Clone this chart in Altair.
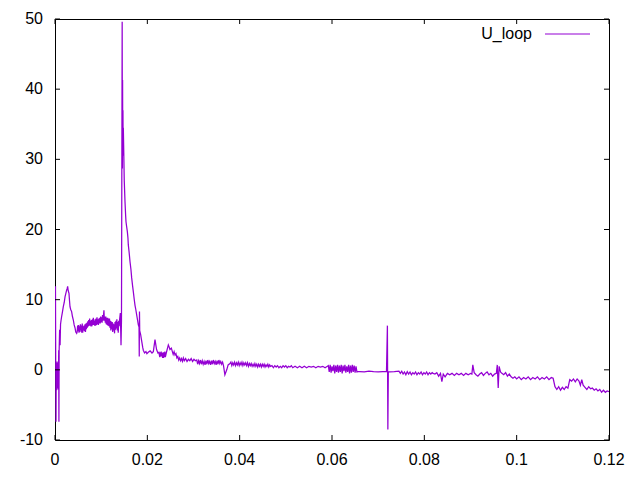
import altair as alt
import pandas as pd

# ---- data (time in s, U_loop) ----
seg_start = [
    (0.00000, 4.0), (0.00010, 11.9), (0.00016, 0.5), (0.00022, -7.4), (0.00026, -1.0),
    (0.00030, 1.0), (0.00034, -2.9), (0.00038, 0.8), (0.00042, -2.0), (0.00046, 1.2),
    (0.00050, -2.6), (0.00054, 0.3), (0.00058, -1.5), (0.00062, 1.0), (0.00066, -2.8),
    (0.00070, 0.6), (0.00075, -2.2), (0.00080, 2.8), (0.00085, -7.4), (0.00090, 2.8),
    (0.00100, 5.7), (0.00110, 3.5), (0.00120, 6.5), (0.00130, 7.0), (0.00144, 7.6),
    (0.00160, 8.2), (0.00180, 9.0), (0.00200, 9.6), (0.00217, 10.4), (0.00235, 10.9),
    (0.00253, 11.4), (0.00265, 11.6), (0.00274, 11.9), (0.00285, 11.3), (0.00303, 10.9),
    (0.00315, 9.8), (0.00325, 9.0), (0.00340, 8.6), (0.00360, 8.3), (0.00378, 7.6),
    (0.00397, 7.1), (0.00415, 6.4), (0.00433, 6.0), (0.00450, 5.4), (0.00470, 5.2),
]
seg_plateau = [
    (0.0048, 5.4), (0.0049, 6.3), (0.0050, 5.5), (0.0051, 6.4), (0.0052, 5.3),
    (0.0053, 6.2), (0.0054, 5.4), (0.0055, 6.5), (0.0056, 5.6), (0.0057, 6.3),
    (0.0058, 5.3), (0.0059, 6.6), (0.0060, 5.3), (0.0061, 6.2), (0.0062, 5.6),
    (0.0063, 6.3), (0.0064, 5.5), (0.0065, 6.5), (0.0066, 5.4), (0.0067, 6.6),
    (0.0068, 5.8), (0.0069, 6.7), (0.0070, 6.0), (0.0071, 6.9), (0.0072, 6.2),
    (0.0073, 7.1), (0.0074, 6.3), (0.0075, 7.3), (0.0076, 6.3), (0.0077, 7.0),
    (0.0078, 6.2), (0.0079, 7.1), (0.0080, 6.2), (0.0081, 7.2), (0.0082, 6.4),
    (0.0083, 7.4), (0.0084, 6.4), (0.0085, 7.0), (0.0086, 6.3), (0.0087, 7.2),
    (0.0088, 6.3), (0.0089, 7.3), (0.0090, 6.4), (0.0091, 7.5), (0.0092, 6.5),
    (0.0093, 7.2), (0.0094, 6.4), (0.0095, 7.3), (0.0096, 6.6), (0.0097, 7.4),
    (0.0098, 6.6), (0.0099, 7.6), (0.0100, 6.8), (0.0101, 7.5), (0.0102, 6.7),
    (0.0103, 7.8), (0.0104, 7.0), (0.0105, 7.7), (0.0106, 8.5), (0.0107, 7.0),
    (0.0108, 7.6), (0.0109, 6.7), (0.0110, 7.6), (0.0111, 6.5), (0.0112, 7.4),
    (0.0113, 6.4), (0.0114, 7.4), (0.0115, 6.3), (0.0116, 7.3), (0.0117, 6.2),
    (0.0118, 7.3), (0.0119, 6.0), (0.0120, 7.0), (0.0121, 5.6), (0.0122, 6.9),
    (0.0123, 5.8), (0.0124, 6.8), (0.0125, 5.4), (0.0126, 6.6), (0.0127, 5.6),
    (0.0128, 6.5), (0.0129, 5.2), (0.0130, 6.8), (0.0131, 5.7), (0.0132, 7.0),
    (0.0133, 5.9), (0.0134, 7.2), (0.0135, 5.6), (0.0136, 6.8), (0.0137, 5.3),
    (0.0138, 7.0), (0.0139, 6.2), (0.0140, 7.2),
]
seg_spike = [
    (0.01415, 8.1), (0.01430, 3.5), (0.01440, 7.0), (0.01455, 49.6), (0.01460, 28.7),
    (0.01464, 41.3), (0.01468, 30.5), (0.01472, 37.0), (0.01476, 31.0), (0.01480, 34.5),
    (0.01490, 30.9), (0.01500, 27.0), (0.01516, 24.0), (0.01530, 22.0), (0.01538, 21.1),
    (0.01550, 20.5), (0.01567, 19.7), (0.01580, 18.8), (0.01588, 17.8), (0.01605, 16.8),
    (0.01625, 15.4), (0.01645, 14.3), (0.01661, 13.1), (0.01680, 12.0), (0.01697, 11.1),
    (0.01715, 10.1), (0.01733, 9.2), (0.01750, 8.6), (0.01770, 7.8), (0.01790, 7.0),
    (0.01805, 6.4), (0.01820, 6.1), (0.01825, 1.9), (0.01830, 8.3), (0.01835, 5.6),
    (0.01856, 5.0), (0.01870, 4.4), (0.01885, 3.8), (0.01900, 3.2), (0.01913, 2.8),
    (0.01940, 2.4), (0.01970, 2.6), (0.01990, 2.3),
]
seg_decay = [
    (0.0202, 2.5), (0.0206, 2.7), (0.0210, 2.4), (0.0213, 2.6), (0.02166, 4.3),
    (0.0220, 2.9), (0.0223, 2.4), (0.0225, 2.5), (0.0227, 1.8), (0.0228, 2.5),
    (0.0229, 1.9), (0.0230, 2.6), (0.0231, 1.9), (0.0232, 2.4), (0.0233, 1.7),
    (0.0234, 2.5), (0.0235, 1.7), (0.0236, 2.5), (0.0237, 1.8), (0.0238, 2.6),
    (0.0239, 1.8), (0.0241, 2.4), (0.02455, 3.55), (0.0247, 3.3), (0.0249, 2.9),
    (0.0252, 3.1), (0.0256, 2.2), (0.0258, 2.6), (0.0260, 2.1), (0.0262, 2.3),
    (0.0264, 1.7), (0.0266, 1.9), (0.0268, 1.4), (0.0270, 1.7), (0.0272, 1.3),
    (0.0274, 1.6), (0.0276, 1.2), (0.0278, 1.7), (0.0280, 1.3), (0.0283, 1.6),
    (0.0286, 1.2), (0.0289, 1.5), (0.0292, 1.3), (0.0295, 1.6), (0.0298, 1.2),
    (0.0301, 1.5), (0.0304, 1.3), (0.0307, 1.4), (0.0309, 0.8), (0.0311, 1.3),
    (0.0313, 0.9), (0.0315, 1.4), (0.0317, 0.8), (0.0319, 1.3), (0.0321, 0.8),
    (0.0323, 1.2), (0.0325, 0.7), (0.0327, 1.3), (0.0329, 0.8), (0.0331, 1.4),
    (0.0333, 0.9), (0.0335, 1.2), (0.0337, 0.7), (0.0339, 1.3), (0.0341, 0.8),
    (0.0343, 1.4), (0.0345, 0.9), (0.0347, 1.2), (0.0349, 0.7), (0.0351, 1.3),
    (0.0353, 0.8), (0.0355, 1.4), (0.0357, 0.9), (0.0359, 1.2), (0.0361, 0.8),
    (0.0363, 1.1), (0.0365, 0.6), (0.0368, -0.7), (0.0372, 0.0), (0.0375, 0.7),
]
seg_mid = [
    (0.0379, 0.9), (0.0381, 1.1), (0.0383, 0.6), (0.0385, 1.0), (0.0387, 0.7),
    (0.0389, 1.1), (0.0391, 0.6), (0.0393, 1.0), (0.0395, 0.7), (0.0397, 1.1),
    (0.0399, 0.6), (0.0401, 1.0), (0.0403, 0.7), (0.0405, 1.1), (0.0407, 0.6),
    (0.0409, 1.0), (0.0411, 0.7), (0.0413, 1.0), (0.0415, 0.6), (0.0417, 1.0),
    (0.0419, 0.5), (0.0421, 0.9), (0.0423, 0.6), (0.0425, 0.9), (0.0427, 0.5),
    (0.0429, 0.8), (0.0431, 0.5), (0.0433, 0.9), (0.0435, 0.5), (0.0437, 0.8),
    (0.0439, 0.4), (0.0441, 0.8), (0.0443, 0.5), (0.0445, 0.8), (0.0447, 0.4),
    (0.0449, 0.8), (0.0451, 0.5), (0.0453, 0.8), (0.0455, 0.4), (0.0457, 0.7),
    (0.0459, 0.5), (0.0461, 0.8), (0.0463, 0.4), (0.0465, 0.7), (0.0467, 0.5),
    (0.0470, 0.6), (0.0473, 0.3), (0.0476, 0.6), (0.0479, 0.4), (0.0482, 0.6),
    (0.0485, 0.3), (0.0488, 0.5), (0.0491, 0.3), (0.0494, 0.6), (0.0497, 0.4),
    (0.0500, 0.6), (0.0503, 0.3), (0.0506, 0.5), (0.0509, 0.4), (0.0512, 0.6),
    (0.0515, 0.3), (0.0520, 0.5), (0.0525, 0.3), (0.0530, 0.5), (0.0535, 0.3),
    (0.0540, 0.5), (0.0545, 0.3), (0.0550, 0.5), (0.0555, 0.4), (0.0560, 0.5),
    (0.0565, 0.3), (0.0570, 0.5), (0.0575, 0.4), (0.0580, 0.5), (0.0585, 0.3),
    (0.0590, 0.5),
]
seg_band = [
    (0.0592, 0.6), (0.0594, -0.3), (0.0596, 0.7), (0.0598, -0.4), (0.0600, 0.5),
    (0.0602, -0.2), (0.0604, 0.7), (0.0606, -0.5), (0.0608, 0.6), (0.0610, -0.3),
    (0.0612, 0.7), (0.0614, -0.4), (0.0616, 0.6), (0.0618, -0.3), (0.0620, 0.7),
    (0.0622, -0.5), (0.0624, 0.6), (0.0626, -0.2), (0.0628, 0.7), (0.0630, -0.4),
    (0.0632, 0.5), (0.0634, -0.3), (0.0636, 0.7), (0.0638, -0.5), (0.0640, 0.6),
    (0.0642, -0.4), (0.0644, 0.7), (0.0646, -0.3), (0.0648, 0.6), (0.0650, -0.4),
    (0.0652, 0.5), (0.0654, -0.3), (0.0656, -0.26),
]
seg_flat = [
    (0.0660, -0.26), (0.0670, -0.3), (0.0680, -0.2), (0.0690, -0.26), (0.0700, -0.3),
    (0.0710, -0.26), (0.0718, -0.26), (0.07200, 6.3), (0.07210, -8.5), (0.07220, -0.26),
    (0.0725, -0.3), (0.0735, -0.26), (0.0745, -0.2), (0.0748, -0.5), (0.0751, -0.2),
    (0.0754, -0.6), (0.0757, -0.3), (0.0760, -0.7), (0.0763, -0.25), (0.0766, -0.6),
    (0.0769, -0.3), (0.0772, -0.7), (0.0775, -0.4), (0.0778, -0.6), (0.0781, -0.3),
    (0.0784, -0.7), (0.0787, -0.4), (0.0790, -0.6), (0.0793, -0.3), (0.0796, -0.7),
    (0.0799, -0.4), (0.0802, -0.6), (0.0805, -0.3), (0.0808, -0.7), (0.0811, -0.4),
    (0.0814, -0.6), (0.0817, -0.4), (0.0819, -0.5),
]
seg_end = [
    (0.0823, -0.6), (0.0827, -0.4), (0.0831, -0.9), (0.0835, -0.5), (0.0838, -1.7),
    (0.0841, -0.6), (0.0845, -1.0), (0.0850, -0.5), (0.0855, -0.7), (0.0860, -0.5),
    (0.0865, -0.8), (0.0870, -0.5), (0.0875, -0.7), (0.0880, -0.5), (0.0885, -0.8),
    (0.0890, -0.5), (0.0895, -0.7), (0.0900, -0.5), (0.0903, -0.6), (0.0905, 0.7),
    (0.0908, -0.4), (0.0912, -0.7), (0.0916, -0.9), (0.0920, -0.6), (0.0924, -0.4),
    (0.0928, -0.8), (0.0932, -0.5), (0.0936, -0.3), (0.0940, -0.7), (0.0944, -0.5),
    (0.0948, -0.9), (0.0952, -0.6), (0.0956, -0.5), (0.0958, 0.7), (0.0960, -2.6),
    (0.0962, 0.5), (0.0965, -0.3), (0.0968, -0.5), (0.0972, -0.7), (0.0976, -0.4),
    (0.0980, -0.9), (0.0984, -0.6), (0.0988, -1.0), (0.0992, -1.2), (0.0996, -1.0),
    (0.1000, -1.3), (0.1005, -1.0), (0.1010, -1.4), (0.1015, -1.1), (0.1020, -1.3),
    (0.1025, -1.0), (0.1030, -1.4), (0.1035, -1.1), (0.1040, -1.3), (0.1045, -1.0),
    (0.1050, -1.4), (0.1055, -1.1), (0.1060, -1.3), (0.1065, -1.0), (0.1070, -1.4),
    (0.1075, -1.1), (0.1079, -1.2), (0.1083, -2.4), (0.1087, -2.8), (0.1091, -2.4),
    (0.1095, -2.9), (0.1099, -2.5), (0.1103, -2.8), (0.1107, -2.4), (0.1111, -2.6),
    (0.1115, -1.4), (0.1119, -1.6), (0.1123, -1.3), (0.1127, -1.7), (0.1131, -1.3),
    (0.1135, -1.6), (0.1138, -2.2), (0.1141, -1.4), (0.1144, -2.2), (0.1148, -2.5),
    (0.1152, -2.8), (0.1156, -2.4), (0.1160, -2.7), (0.1164, -2.6), (0.1168, -2.9),
    (0.1172, -2.7), (0.1176, -3.0), (0.1180, -2.8), (0.1184, -3.2), (0.1188, -2.9),
    (0.1192, -3.2), (0.1196, -3.0), (0.1200, -3.1),
]

x_ticks = [0, 0.02, 0.04, 0.06, 0.08, 0.1, 0.12]
x_tick_labels = ["0", "0.02", "0.04", "0.06", "0.08", "0.1", "0.12"]
y_ticks = [-10, 0, 10, 20, 30, 40, 50]
y_tick_labels = ["-10", "0", "10", "20", "30", "40", "50"]
series_name = "U_loop"

# ---- build ----
points = seg_start + seg_plateau + seg_spike + seg_decay + seg_mid + seg_band + seg_flat + seg_end
df = pd.DataFrame(points, columns=["t", "u"])
df["i"] = range(len(df))

W, H = 554, 421
TICK = 5
FONT = "Liberation Sans"
FS = 16
COLOR = "#9400D3"

xs = alt.Scale(domain=[0, 0.12], nice=False, zero=False)
ys = alt.Scale(domain=[-10, 50], nice=False, zero=False)

line = alt.Chart(df).mark_line(color=COLOR, strokeWidth=1.25, clip=True).encode(
    x=alt.X("t:Q", scale=xs, axis=None),
    y=alt.Y("u:Q", scale=ys, axis=None),
    order="i:Q",
)

ytk = pd.DataFrame({"v": y_ticks, "lab": y_tick_labels})
xtk = pd.DataFrame({"v": x_ticks, "lab": x_tick_labels})

left_ticks = alt.Chart(ytk).mark_rule(color="black", strokeWidth=1).encode(
    y=alt.Y("v:Q", scale=ys, axis=None), x=alt.value(0), x2=alt.value(TICK))
right_ticks = alt.Chart(ytk).mark_rule(color="black", strokeWidth=1).encode(
    y=alt.Y("v:Q", scale=ys, axis=None), x=alt.value(W - TICK), x2=alt.value(W))
bottom_ticks = alt.Chart(xtk).mark_rule(color="black", strokeWidth=1).encode(
    x=alt.X("v:Q", scale=xs, axis=None), y=alt.value(H - TICK), y2=alt.value(H))
top_ticks = alt.Chart(xtk).mark_rule(color="black", strokeWidth=1).encode(
    x=alt.X("v:Q", scale=xs, axis=None), y=alt.value(0), y2=alt.value(TICK))

y_labels = alt.Chart(ytk).mark_text(
    align="right", baseline="middle", fontSize=FS, font=FONT, color="black", dx=-12
).encode(y=alt.Y("v:Q", scale=ys, axis=None), x=alt.value(0), text="lab:N")
x_labels = alt.Chart(xtk).mark_text(
    align="center", baseline="top", fontSize=FS, font=FONT, color="black", dy=12
).encode(x=alt.X("v:Q", scale=xs, axis=None), y=alt.value(H), text="lab:N")

leg = pd.DataFrame({"label": [series_name]})
leg_text = alt.Chart(leg).mark_text(
    align="right", baseline="middle", fontSize=FS, font=FONT, color="black"
).encode(text="label:N", x=alt.value(477), y=alt.value(15))
leg_line = alt.Chart(leg).mark_rule(color=COLOR, strokeWidth=1.2).encode(
    x=alt.value(490), x2=alt.value(535), y=alt.value(15))

chart = alt.layer(
    line, left_ticks, right_ticks, bottom_ticks, top_ticks,
    y_labels, x_labels, leg_text, leg_line
).properties(
    width=W, height=H,
    autosize=alt.AutoSizeParams(type="none"),
    padding={"left": 47, "top": 11, "right": 20, "bottom": 35},
    background="white",
).configure_view(stroke="black", strokeWidth=1)

chart.save("out.html", embed_options={"renderer": "svg", "actions": False})
